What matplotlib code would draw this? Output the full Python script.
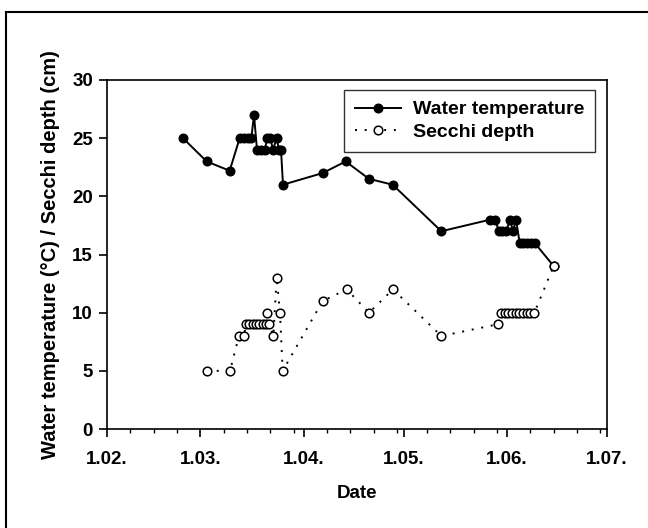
import matplotlib
matplotlib.use("Agg")
import matplotlib.pyplot as plt
from matplotlib.lines import Line2D

plt.rcParams["font.family"] = ["Liberation Sans", "DejaVu Sans"]
plt.rcParams["font.weight"] = "bold"

# x values are days counted from 1 February
month_days = [0, 28, 59, 89, 120, 150]
month_labels = ["1.02.", "1.03.", "1.04.", "1.05.", "1.06.", "1.07."]

temp_days = [22.8, 29.9, 36.8, 39.8, 41.0, 42.2, 43.3, 44.1, 45.0, 46.2, 47.4,
             48.0, 49.0, 49.8, 50.9, 51.6, 52.2, 52.8, 64.7, 71.6, 78.6, 85.7,
             100.3, 115.0, 116.4, 117.6, 118.6, 119.8, 120.9, 121.8, 122.7,
             123.8, 124.9, 126.0, 127.1, 128.3, 134.0]
temp_vals = [25, 23, 22.2, 25, 25, 25, 25, 27, 24, 24, 24,
             25, 25, 24, 25, 24, 24, 21, 22, 23, 21.5, 21,
             17, 18, 18, 17, 17, 17, 18, 17, 18,
             16, 16, 16, 16, 16, 14]

secchi_days = [30.0, 36.9, 39.6, 41.1, 41.7, 42.7, 43.7, 44.7, 45.7, 46.7,
               47.7, 47.9, 48.7, 49.9, 50.9, 51.9, 52.7, 64.7, 71.9, 78.6,
               85.8, 100.3, 117.3, 118.2, 119.3, 120.4, 121.5, 122.6, 123.7,
               124.8, 125.9, 127.0, 128.2, 134.0]
secchi_vals = [5, 5, 8, 8, 9, 9, 9, 9, 9, 9,
               9, 10, 9, 8, 13, 10, 5, 11, 12, 10,
               12, 8, 9, 10, 10, 10, 10, 10, 10,
               10, 10, 10, 10, 14]

fig = plt.figure(figsize=(6.48, 5.28), dpi=100)
ax = fig.add_axes([107 / 648, 99 / 528, 500 / 648, 349 / 528])

ax.plot(temp_days, temp_vals, color="black", linewidth=1.4, marker="o",
        markersize=6.2, markerfacecolor="black", markeredgecolor="black",
        label="Water temperature")
ax.plot(secchi_days, secchi_vals, color="black", linewidth=1.4,
        linestyle=(0, (1, 4)), marker="o", markersize=6.2,
        markerfacecolor="white", markeredgecolor="black",
        markeredgewidth=1.1, label="Secchi depth")

ax.set_xlim(0, 150)
ax.set_ylim(0, 30)
ax.set_xticks(month_days)
ax.set_xticklabels(month_labels)
minor = []
for start, end in zip(month_days[:-1], month_days[1:]):
    minor += [d for d in (start + 7, start + 14, start + 21, start + 28) if d < end]
ax.set_xticks(minor, minor=True)
ax.set_yticks([0, 5, 10, 15, 20, 25, 30])

ax.tick_params(axis="both", which="major", direction="out", length=6,
               width=1.2, labelsize=13.5, pad=4)
ax.tick_params(axis="x", which="major", pad=10)
ax.tick_params(axis="x", which="minor", direction="out", length=3, width=1)
for sp in ax.spines.values():
    sp.set_linewidth(1.2)

ax.set_xlabel("Date", fontsize=13.5, fontweight="bold", labelpad=12)
ax.set_ylabel("Water temperature (\u00b0C) / Secchi depth (cm)",
              fontsize=14.5, fontweight="bold", labelpad=9)

leg = ax.legend(loc="upper right", bbox_to_anchor=(0.976, 0.971),
                borderaxespad=0, fontsize=14, frameon=True, fancybox=False,
                handlelength=2.4, borderpad=0.55, labelspacing=0.25,
                handletextpad=0.6)
leg.get_frame().set_edgecolor("black")
leg.get_frame().set_linewidth(1.0)
for t in leg.get_texts():
    t.set_fontweight("bold")

# outer frame of the scanned figure
fig.add_artist(Line2D([6 / 648, 1], [1 - 12 / 528, 1 - 12 / 528],
                      transform=fig.transFigure, color="black", linewidth=1.5))
fig.add_artist(Line2D([6 / 648, 6 / 648], [0, 1 - 12 / 528],
                      transform=fig.transFigure, color="black", linewidth=1.5))

fig.savefig("out.png", dpi=100)
